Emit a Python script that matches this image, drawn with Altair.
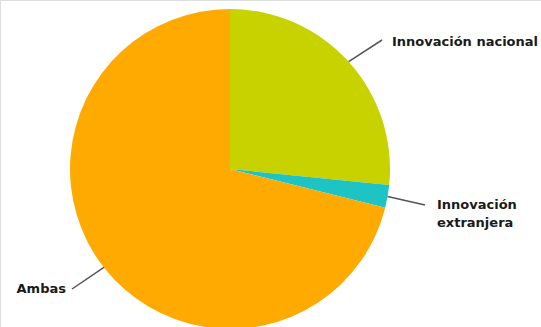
import math
import altair as alt
import pandas as pd

categories = ["Innovación nacional", "Innovación extranjera", "Ambas"]
values = [26.6, 2.3, 71.1]
colors = ["#C8D200", "#1EC4C4", "#FFAA00"]

# label layout (pixel anchors for text and leader-line ends)
label_lines = [["Innovación nacional"], ["Innovación", "extranjera"], ["Ambas"]]
label_x = [392, 437, 66]
label_y = [42, 205, 289]
label_align = ["left", "left", "right"]
line_end_x = [382, 425, 72]
line_end_y = [40, 205, 289]

CX, CY, R = 230, 169, 160

df = pd.DataFrame({"cat": categories, "val": values, "order": [0, 1, 2]})

pie = alt.Chart(df).mark_arc(radius=R, stroke=None).encode(
    theta=alt.Theta("val:Q", stack=True),
    order=alt.Order("order:Q"),
    color=alt.Color("cat:N", scale=alt.Scale(domain=categories, range=colors), legend=None),
    x=alt.value(CX),
    y=alt.value(CY),
)

# leader lines start at mid-angle of each slice on the rim
total = sum(values)
rows = []
cum = 0
for i, v in enumerate(values):
    mid = (cum + v / 2) / total * 2 * math.pi
    cum += v
    sx = CX + R * math.sin(mid)
    sy = CY - R * math.cos(mid)
    rows.append({"cat": categories[i], "x": sx, "y": sy, "x2": line_end_x[i], "y2": line_end_y[i]})
lines_df = pd.DataFrame(rows)

leaders = alt.Chart(lines_df).mark_rule(color="#555555", strokeWidth=1.5).encode(
    x=alt.X("x:Q", scale=None), y=alt.Y("y:Q", scale=None),
    x2="x2:Q", y2="y2:Q",
)

text_layers = []
for i in range(3):
    tdf = pd.DataFrame({"t": [label_lines[i]], "x": [label_x[i]], "y": [label_y[i]]})
    text_layers.append(
        alt.Chart(tdf).mark_text(
            font="DejaVu Sans", fontWeight="bold", fontSize=13, color="#1a1a1a",
            align=label_align[i], baseline="middle", lineHeight=18,
        ).encode(x=alt.X("x:Q", scale=None), y=alt.Y("y:Q", scale=None), text="t")
    )

chart = alt.layer(pie, leaders, *text_layers).properties(
    width=541, height=327, autosize=alt.AutoSizeParams(type="none"), padding=0
).configure_view(stroke=None).configure(background="white")

chart.save("out.html", embed_options={"renderer": "svg", "actions": False})
